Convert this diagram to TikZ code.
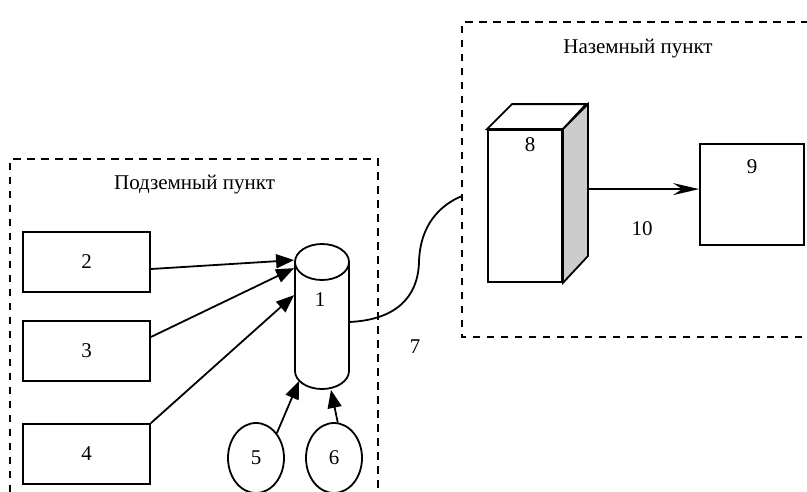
\documentclass[tikz,border=0pt]{standalone}
\usepackage{fontspec}
\setmainfont{Liberation Serif}
\usetikzlibrary{arrows.meta,shapes.geometric,calc}
\begin{document}
\begin{tikzpicture}[x=1pt,y=-1pt,
  line width=1.8pt,
  every node/.style={font=\fontsize{21}{25}\selectfont},
  zone/.style={draw,dash pattern=on 7.5pt off 6.5pt,line width=1.6pt},
  unit/.style={draw,rectangle,minimum width=127pt,minimum height=60pt,inner sep=0pt},
  source/.style={draw,ellipse,minimum width=56pt,minimum height=70pt,inner sep=0pt},
  feed/.style={-{Triangle[length=18pt,width=14pt]}},
  link/.style={-{Stealth[length=26pt,width=12pt,inset=9pt]}}]
\useasboundingbox (0,0) rectangle (807,491);
\clip (0,0) rectangle (807,491);
\fill[white] (0,0) rectangle (807,491);

% dashed zones
\draw[zone] (10,520) -- (10,159) -- (378,159) -- (378,520);
\node at (194.5,185) {Подземный пункт};
\draw[zone] (830,337) -- (462,337) -- (462,22) -- (830,22);
\node at (638,49) {Наземный пункт};

% underground units
\node[unit] (b2) at (86.5,262) {2};
\node[unit] (b3) at (86.5,351) {3};
\node[unit] (b4) at (86.5,454) {4};

% collector 1 (cylinder)
\node[minimum width=54pt,minimum height=145pt,inner sep=0pt] (c1) at (322,316.5) {};
\draw[fill=white] (295,262) -- (295,371) arc[start angle=180,end angle=0,x radius=27,y radius=18]
  -- (349,262);
\draw[fill=white] (322,262) ellipse[x radius=27,y radius=18];
\node at (320,300) {1};

% sources 5 and 6
\node[source] (e5) at (256,458) {5};
\node[source] (e6) at (334,458) {6};

% arrows into the collector
\draw[feed] ($(b2.east)+(0,7)$) -- ($(c1.north west)+(0,17)$);
\draw[feed] ($(b3.east)+(0,-14)$) -- ($(c1.north west)+(0,25)$);
\draw[feed] (b4.north east) -- ($(c1.north west)+(0,52)$);
\draw[feed] (e5.50) -- ($(c1.south west)+(5,-9)$);
\draw[feed] (e6.84) -- ($(c1.south)+(9,0)$);

% ground unit 8 (box)
\node[draw,rectangle,minimum width=74pt,minimum height=152pt,inner sep=0pt] (f8) at (525,206) {};
\draw[fill=white] (f8.north west) -- ++(25,-25) -- ++(74,0) -- (f8.north east) -- cycle;
\draw[fill=gray!40] (f8.north east) -- ++(25,-25) coordinate (f8top) -- ++(0,152) -- (f8.south east) -- cycle;
\node[anchor=north,inner sep=0pt] at ($(f8.north)+(5,8)$) {8};

% receiver 9
\node[draw,rectangle,minimum width=104pt,minimum height=101pt,inner sep=0pt] (b9) at (752,194.5) {};
\node[anchor=north,inner sep=0pt] at ($(b9.north)+(0,16)$) {9};

% link 10
\draw[link] ($(f8top)+(0,85)$) coordinate (s10) -- (s10 -| b9.west);
\node at (642,229) {10};

% cable 7
\coordinate (k0) at (349,322);
\coordinate (k1) at (462,196);
\draw (k0) .. controls (395,320) and (418,298) .. (419,262)
      .. controls (420,225) and (440,205) .. (k1);
\node at (415,347) {7};
\end{tikzpicture}
\end{document}
